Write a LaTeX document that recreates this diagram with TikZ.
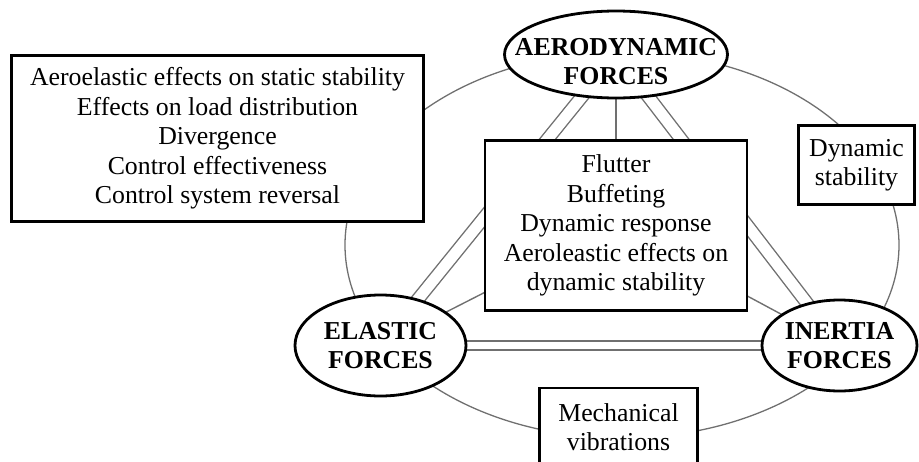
\documentclass[tikz,border=0pt]{standalone}
\usepackage{fontspec}
\setmainfont{Liberation Serif}
\usetikzlibrary{positioning, shapes.geometric, backgrounds}
\definecolor{linkgray}{RGB}{112,112,112}
\tikzset{node distance = 3cm, on grid,
         every node/.style = {font = \fontsize{25.8}{29.5}\selectfont, align = center},
         force/.style = {ellipse, draw, line width = 2.8pt, fill = white, inner sep = 0pt},
         forcetext/.style = {font = \fontsize{25.8}{29.5}\selectfont\bfseries, align = center},
         effect/.style = {rectangle, draw, line width = 2.8pt, fill = white, inner sep = 0pt},
         ring/.style = {ellipse, draw = linkgray, line width = 1.3pt, inner sep = 0pt},
         link/.style = {draw = linkgray, line width = 1.4pt},
         twin/.style = {draw = linkgray, line width = 1.4pt, double = white, double distance = 11pt}}

\begin{document}
\begin{tikzpicture}[x = 1pt, y = -1pt]
        \useasboundingbox (0,0) rectangle (919,461);
        \node[ring, minimum width = 554pt, minimum height = 386pt] (rim) at (622,245) {};

        \node[force, minimum width = 223pt, minimum height = 87pt,
              label = {[forcetext, yshift = -7pt]center:AERODYNAMIC\\FORCES}] (aero) at (616,54.5) {};
        \node[force, minimum width = 171pt, minimum height = 101pt,
              label = {[forcetext]center:ELASTIC\\FORCES}] (elastic) [below left = 291pt and 235.5pt of aero] {};
        \node[force, minimum width = 155pt, minimum height = 91pt,
              label = {[forcetext]center:INERTIA\\FORCES}] (inertia) [right = 459pt of elastic] {};

        \node[effect, minimum width = 412pt, minimum height = 166pt] (static) at (217.5,138.5) {Aeroelastic effects on static stability\\Effects on load distribution\\Divergence\\Control effectiveness\\Control system reversal};
        \node[effect, minimum width = 262pt, minimum height = 170pt] (flutter) [below = 171pt of aero] {Flutter\\Buffeting\\Dynamic response\\Aeroleastic effects on\\dynamic stability};
        \node[effect, minimum width = 116pt, minimum height = 79pt] (stability) at (856.5,165) {Dynamic\\stability};
        \node[effect, minimum width = 158pt, minimum height = 78pt] (vibrations) at (618.5,427) {Mechanical\\vibrations};

        \begin{scope}[on background layer]
            \path[twin] (aero.center) -- (elastic.center);
            \path[twin] (aero.center) -- (inertia.center);
            \path[twin, double distance = 7.5pt] (elastic.center) -- (inertia.center);
            \path[link] (flutter.center) -- (aero.center);
            \path[link] (flutter.center) -- (elastic.center);
            \path[link] (flutter.center) -- (inertia.center);
        \end{scope}
    \end{tikzpicture}
\end{document}
